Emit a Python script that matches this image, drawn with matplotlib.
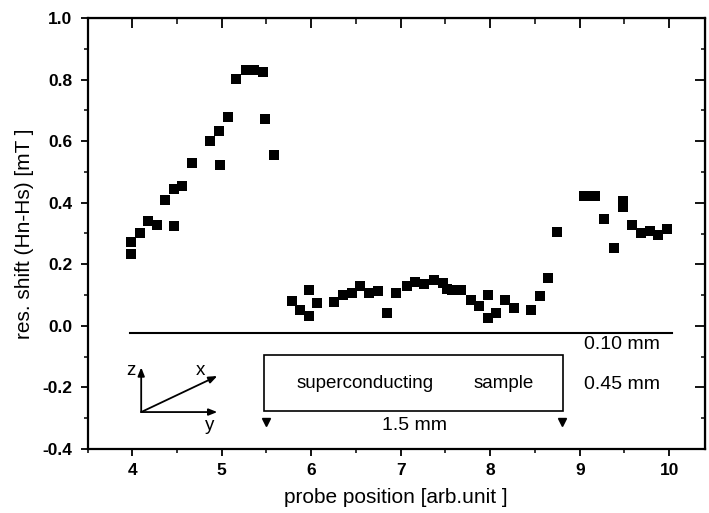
import matplotlib
matplotlib.use("Agg")
import matplotlib.pyplot as plt
from matplotlib.ticker import MultipleLocator, FormatStrFormatter

plt.rcParams['font.family'] = ['Liberation Sans', 'DejaVu Sans']
plt.rcParams['axes.unicode_minus'] = False

# data: probe position vs resonance shift
pos = [3.99, 3.99, 4.09, 4.175, 4.275, 4.37, 4.47, 4.466, 4.56, 4.67,
       4.87, 4.97, 4.975, 5.07, 5.16, 5.27, 5.36, 5.46, 5.48, 5.58,
       5.785, 5.87, 5.98, 5.98, 6.07, 6.26, 6.36, 6.46, 6.55, 6.65,
       6.75, 6.85, 6.95, 7.07, 7.16, 7.26, 7.37, 7.47, 7.52, 7.57,
       7.67, 7.78, 7.88, 7.98, 7.98, 8.07, 8.17, 8.27, 8.46, 8.56,
       8.65, 8.75, 9.05, 9.11, 9.17, 9.27, 9.38, 9.48, 9.48, 9.58,
       9.69, 9.78, 9.88, 9.98]
shift = [0.234, 0.272, 0.300, 0.340, 0.328, 0.409, 0.323, 0.445, 0.454, 0.528,
         0.602, 0.634, 0.521, 0.678, 0.803, 0.830, 0.830, 0.823, 0.673, 0.556,
         0.082, 0.050, 0.031, 0.116, 0.074, 0.076, 0.101, 0.107, 0.131, 0.107,
         0.112, 0.041, 0.107, 0.129, 0.142, 0.136, 0.148, 0.139, 0.120, 0.118,
         0.118, 0.085, 0.063, 0.099, 0.027, 0.041, 0.083, 0.058, 0.053, 0.096,
         0.157, 0.305, 0.422, 0.422, 0.422, 0.346, 0.254, 0.406, 0.386, 0.327,
         0.303, 0.308, 0.294, 0.314]

x_label = "probe position [arb.unit ]"
y_label = "res. shift (Hn-Hs) [mT ]"

W, H = 709, 513
fig = plt.figure(figsize=(W / 100, H / 100), dpi=100)
ax = fig.add_axes([87.5 / W, 1 - 449 / H, (705 - 87.5) / W, (449 - 18) / H])
ax.set_xlim(3.5, 10.4)
ax.set_ylim(-0.4, 1.0)

ax.plot(pos, shift, linestyle='none', marker='s', markersize=6.8,
        color='black', markeredgewidth=0)

for s in ax.spines.values():
    s.set_linewidth(1.6)

ax.xaxis.set_major_locator(MultipleLocator(1))
ax.xaxis.set_minor_locator(MultipleLocator(0.5))
ax.yaxis.set_major_locator(MultipleLocator(0.2))
ax.yaxis.set_minor_locator(MultipleLocator(0.1))
ax.yaxis.set_major_formatter(FormatStrFormatter('%.1f'))
ax.xaxis.set_major_formatter(FormatStrFormatter('%d'))
ax.tick_params(axis='both', which='major', direction='out', length=5, width=1.3,
               labelsize=12.5)
ax.tick_params(axis='y', which='major', pad=6)
ax.tick_params(axis='x', which='major', pad=5)
ax.tick_params(axis='both', which='minor', direction='out', length=3, width=1.1)
for lab in ax.get_xticklabels() + ax.get_yticklabels():
    lab.set_fontweight('bold')

top = ax.secondary_xaxis('top')
top.xaxis.set_major_locator(MultipleLocator(1))
top.xaxis.set_minor_locator(MultipleLocator(0.5))
top.tick_params(which='major', direction='in', length=7, width=1.3, labeltop=False)
top.tick_params(which='minor', direction='in', length=4, width=1.1)
top.set_xticklabels([])
right = ax.secondary_yaxis('right')
right.yaxis.set_major_locator(MultipleLocator(0.2))
right.yaxis.set_minor_locator(MultipleLocator(0.1))
right.tick_params(which='major', direction='in', length=7, width=1.3, labelright=False)
right.tick_params(which='minor', direction='in', length=3, width=1.1)
right.set_yticklabels([])

ax.set_xlabel(x_label, fontsize=15, labelpad=7)
ax.set_ylabel(y_label, fontsize=15, labelpad=6)

# sample sketch
ax.plot([3.98, 10.03], [-0.022, -0.022], color='black', linewidth=1.5)
ax.add_patch(plt.Rectangle((5.47, -0.277), 8.81 - 5.47, 0.183, fill=False,
                           edgecolor='black', linewidth=1.2))
ax.text(6.6, -0.188, "superconducting", fontsize=13.5, ha='center', va='center')
ax.text(8.15, -0.188, "sample", fontsize=13.5, ha='center', va='center')
ax.text(9.47, -0.062, "0.10 mm", fontsize=14, ha='center', va='center')
ax.text(9.47, -0.192, "0.45 mm", fontsize=14, ha='center', va='center')
ax.text(7.15, -0.325, "1.5 mm", fontsize=14, ha='center', va='center')
ax.plot([5.5, 8.8], [-0.313, -0.313], linestyle='none', marker='v',
        markersize=6, color='black')

# coordinate axes
ox, oy = 4.1, -0.28
arr = dict(arrowstyle='-|>,head_length=0.5,head_width=0.2', color='black', lw=1.3,
           shrinkA=0, shrinkB=0)
ax.annotate('', xy=(ox, -0.135), xytext=(ox, oy), arrowprops=arr)
ax.annotate('', xy=(4.95, oy), xytext=(ox, oy), arrowprops=arr)
ax.annotate('', xy=(4.95, -0.163), xytext=(ox, oy), arrowprops=arr)
ax.text(3.98, -0.146, "z", fontsize=13.5, ha='center', va='center')
ax.text(4.76, -0.146, "x", fontsize=13.5, ha='center', va='center')
ax.text(4.87, -0.325, "y", fontsize=13.5, ha='center', va='center')

fig.savefig("out.png", dpi=100)
